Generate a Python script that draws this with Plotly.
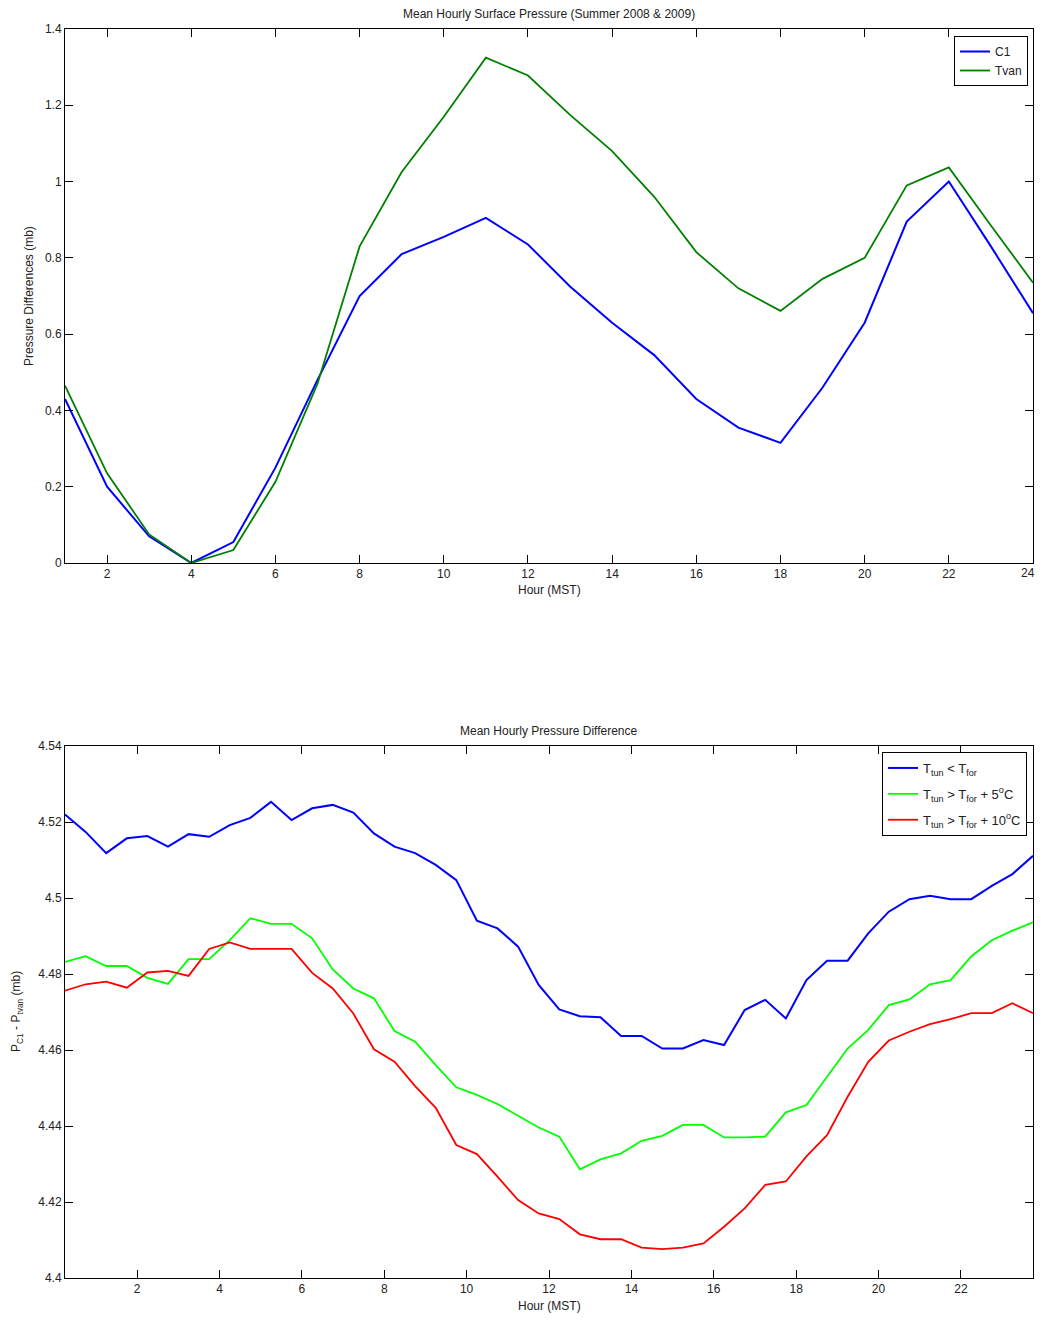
import plotly.graph_objects as go
from plotly.subplots import make_subplots

# ---------------- data ----------------
hours = [1, 2, 3, 4, 5, 6, 7, 8, 9, 10, 11, 12, 13, 14, 15, 16, 17, 18, 19, 20, 21, 22, 23, 24]
c1 = [0.43, 0.20, 0.07, 0.0, 0.055, 0.25, 0.48, 0.70, 0.81, 0.855, 0.905, 0.835, 0.725, 0.63,
      0.545, 0.43, 0.355, 0.315, 0.46, 0.63, 0.895, 1.0, 0.83, 0.655]
tvan = [0.465, 0.235, 0.075, 0.0, 0.034, 0.213, 0.47, 0.83, 1.025, 1.17, 1.325, 1.278, 1.175, 1.08,
        0.96, 0.815, 0.72, 0.661, 0.745, 0.80, 0.99, 1.037, 0.885, 0.735]

half_hours = [0.25, 0.75, 1.25, 1.75, 2.25, 2.75, 3.25, 3.75, 4.25, 4.75, 5.25, 5.75,
              6.25, 6.75, 7.25, 7.75, 8.25, 8.75, 9.25, 9.75, 10.25, 10.75, 11.25, 11.75,
              12.25, 12.75, 13.25, 13.75, 14.25, 14.75, 15.25, 15.75, 16.25, 16.75, 17.25, 17.75,
              18.25, 18.75, 19.25, 19.75, 20.25, 20.75, 21.25, 21.75, 22.25, 22.75, 23.25, 23.75]
t_lt = [4.5220, 4.5174, 4.5118, 4.5157, 4.5163, 4.5135, 4.5168, 4.5161, 4.5192, 4.5211,
        4.5253, 4.5205, 4.5236, 4.5245, 4.5225, 4.5170, 4.5135, 4.5118, 4.5087, 4.5047,
        4.4940, 4.4920, 4.4872, 4.4771, 4.4707, 4.4689, 4.4686, 4.4637, 4.4637, 4.4604,
        4.4604, 4.4626, 4.4613, 4.4705, 4.4732, 4.4683, 4.4784, 4.4835, 4.4835, 4.4907,
        4.4964, 4.4997, 4.5006, 4.4997, 4.4997, 4.5032, 4.5063, 4.5111]
t_gt5 = [4.4832, 4.4847, 4.4821, 4.4821, 4.4790, 4.4774, 4.4839, 4.4839, 4.4889, 4.4947,
         4.4932, 4.4932, 4.4894, 4.4812, 4.4762, 4.4736, 4.4650, 4.4622, 4.4560, 4.4502,
         4.4482, 4.4458, 4.4427, 4.4396, 4.4372, 4.4286, 4.4312, 4.4328, 4.4361, 4.4374,
         4.4403, 4.4403, 4.4370, 4.4370, 4.4372, 4.4436, 4.4455, 4.4530, 4.4604, 4.4653,
         4.4718, 4.4733, 4.4773, 4.4784, 4.4846, 4.4889, 4.4914, 4.4936]
t_gt10 = [4.4756, 4.4773, 4.4780, 4.4764, 4.4804, 4.4808, 4.4795, 4.4866, 4.4883, 4.4866,
          4.4866, 4.4866, 4.4803, 4.4762, 4.4696, 4.4602, 4.4569, 4.4505, 4.4448, 4.4350,
          4.4326, 4.4267, 4.4205, 4.4170, 4.4155, 4.4115, 4.4102, 4.4102, 4.4080, 4.4076,
          4.4080, 4.4091, 4.4135, 4.4183, 4.4245, 4.4254, 4.4320, 4.4376, 4.4477, 4.4569,
          4.4625, 4.4648, 4.4668, 4.4681, 4.4697, 4.4697, 4.4723, 4.4697]

top_yticks = [0, 0.2, 0.4, 0.6, 0.8, 1.0, 1.2, 1.4]
top_yticktext = ["0", "0.2", "0.4", "0.6", "0.8", "1", "1.2", "1.4"]
top_xticks = [2, 4, 6, 8, 10, 12, 14, 16, 18, 20, 22, 24]
top_xticktext = ["2", "4", "6", "8", "10", "12", "14", "16", "18", "20", "22", ""]
last_top_xlabel = "24"
bot_yticks = [4.40, 4.42, 4.44, 4.46, 4.48, 4.50, 4.52, 4.54]
bot_yticktext = ["4.4", "4.42", "4.44", "4.46", "4.48", "4.5", "4.52", "4.54"]
bot_xticks = [2, 4, 6, 8, 10, 12, 14, 16, 18, 20, 22]

# ---------------- figure ----------------
# page has a default 8px body margin: figure coords = page coords - 8
FONT = "Liberation Sans, Arial, sans-serif"
OFF = 8
W, H = 1029, 1315
ML, MR, MT, MB = 57, 4, 21, 45
PH = H - MT - MB
PW = W - ML - MR

fig = make_subplots(rows=2, cols=1)

fig.add_trace(go.Scatter(x=hours, y=c1, mode="lines", name="C1",
                         line=dict(color="#0000FF", width=2), legend="legend"), row=1, col=1)
fig.add_trace(go.Scatter(x=hours, y=tvan, mode="lines", name="Tvan",
                         line=dict(color="#008000", width=1.8), legend="legend"), row=1, col=1)

fig.add_trace(go.Scatter(x=half_hours, y=t_lt, mode="lines",
                         name="T<sub>tun</sub> < T<sub>for</sub>", legendgroup="a",
                         line=dict(color="#0000FF", width=2), legend="legend2"), row=2, col=1)
fig.add_trace(go.Scatter(x=half_hours, y=t_gt5, mode="lines",
                         name="T<sub>tun</sub> > T<sub>for</sub> + 5<sup>o</sup>C", legendgroup="b",
                         line=dict(color="#00FF00", width=1.8), legend="legend2"), row=2, col=1)
fig.add_trace(go.Scatter(x=half_hours, y=t_gt10, mode="lines",
                         name="T<sub>tun</sub> > T<sub>for</sub> + 10<sup>o</sup>C", legendgroup="c",
                         line=dict(color="#FF0000", width=1.8), legend="legend2"), row=2, col=1)

def py(page_y):
    return (H - MB - (page_y - OFF)) / PH

def px(page_x):
    return ((page_x - OFF) - ML) / PW

top_dom = [py(563), 1.0]
bot_dom = [0.0, py(746)]

axis_common = dict(showline=True, linecolor="black", linewidth=1, mirror="ticks",
                   ticks="inside", ticklen=8, tickcolor="black", showgrid=False,
                   zeroline=False,
                   tickfont=dict(family=FONT, size=12, color="#222222"))

fig.update_layout(
    xaxis=dict(domain=[0, 1], range=[1, 24], tickvals=top_xticks, ticktext=top_xticktext,
               anchor="y", **axis_common),
    yaxis=dict(domain=top_dom, range=[0, 1.4], tickvals=top_yticks, ticktext=top_yticktext,
               anchor="x", **axis_common),
    xaxis2=dict(domain=[0, 1], range=[0.25, 23.75], tickvals=bot_xticks, anchor="y2", **axis_common),
    yaxis2=dict(domain=bot_dom, range=[4.40, 4.54], tickvals=bot_yticks, ticktext=bot_yticktext,
                anchor="x2", **axis_common),
)

fig.update_layout(
    width=W, height=H,
    margin=dict(l=ML, r=MR, t=MT, b=MB),
    paper_bgcolor="white", plot_bgcolor="white",
    font=dict(family=FONT, size=12, color="#222222"),
    showlegend=True,
    legend=dict(x=px(1028), y=py(36), xanchor="right", yanchor="top",
                bgcolor="white", bordercolor="black", borderwidth=1,
                font=dict(family=FONT, size=12, color="#222222"), tracegroupgap=0),
    legend2=dict(x=px(1027), y=py(752), xanchor="right", yanchor="top",
                 bgcolor="white", bordercolor="black", borderwidth=1,
                 font=dict(family=FONT, size=13, color="#222222"), tracegroupgap=6),
)

annos = [
    dict(text="Mean Hourly Surface Pressure (Summer 2008 & 2009)", x=0.5, y=py(14)),
    dict(text="Hour (MST)", x=0.5, y=py(590)),
    dict(text="Pressure Differences (mb)", x=px(29), y=py(296), textangle=-90),
    dict(text="Mean Hourly Pressure Difference", x=0.5, y=py(731)),
    dict(text="Hour (MST)", x=0.5, y=py(1306)),
    dict(text="P<sub>C1</sub> - P<sub>tvan</sub> (mb)", x=px(17), y=py(1012), textangle=-90),
]
for a in annos:
    fig.add_annotation(xref="paper", yref="paper", showarrow=False,
                       xanchor="center", yanchor="middle",
                       font=dict(family=FONT, size=12, color="#222222"), **a)

# last tick label of the top x axis, kept inside the page edge
fig.add_annotation(xref="paper", yref="paper", x=1.0, y=py(573), text=last_top_xlabel,
                   showarrow=False, xanchor="right", yanchor="middle", xshift=4,
                   font=dict(family=FONT, size=12, color="#222222"))

fig.write_html("out.html", config={"displayModeBar": False})
